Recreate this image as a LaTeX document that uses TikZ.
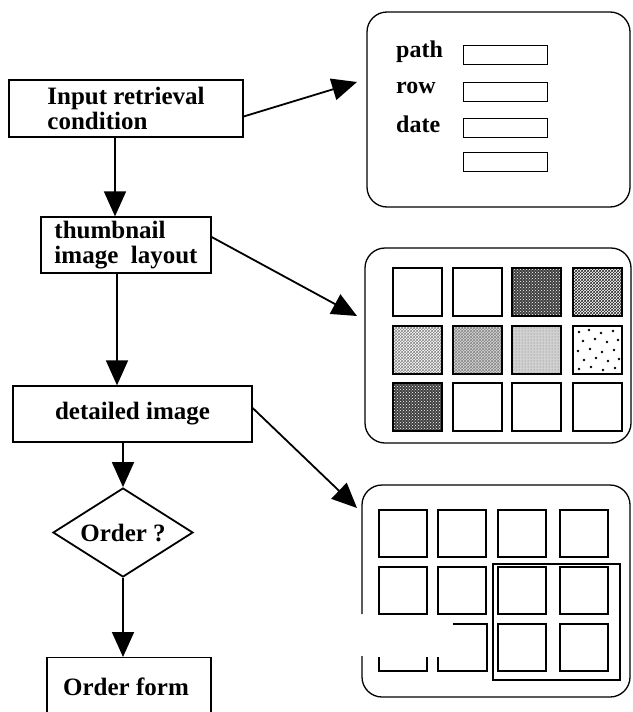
\documentclass[tikz,border=0pt]{standalone}
\usepackage{fontspec}
\setmainfont{Liberation Serif}
\usetikzlibrary{arrows.meta,shapes.geometric,patterns}
\begin{document}
\begin{tikzpicture}[x=1pt,y=-1pt,
  flowbox/.style={draw,line width=1.3pt,inner sep=0pt,font=\bfseries\fontsize{25}{25}\selectfont,align=left},
  conn/.style={line width=1.8pt,-{Triangle[length=25pt,width=22pt]}},
  panel/.style={draw,line width=1.3pt,rounded corners=20pt},
  thumb/.style={draw,line width=1.3pt},
  field/.style={draw,line width=1pt},
  lbl/.style={font=\bfseries\fontsize{24}{24}\selectfont,anchor=base west,inner sep=0pt}]
\useasboundingbox (0,0) rectangle (632,712);
\begin{scope}
\clip (0,0) rectangle (632,712);
% flow nodes
\node[flowbox,minimum width=234pt,minimum height=57pt] (inp) at (126,108.5) {Input retrieval\\condition};
\node[flowbox,minimum width=170pt,minimum height=56pt] (thu) at (126,245) {thumbnail\\image\ \ layout};
\node[flowbox,minimum width=239pt,minimum height=56pt] (det) at (132.5,414) {detailed image};
\node[diamond,draw,line width=1.8pt,inner sep=0pt,aspect=1.57,minimum width=140pt,minimum height=89pt,font=\bfseries\fontsize{25}{25}\selectfont] (ord) at (123,532.5) {Order ?};
\node[flowbox,minimum width=164pt,minimum height=70pt,anchor=north] (frm) at (129,657) {};
\node[font=\bfseries\fontsize{25}{25}\selectfont,anchor=base,inner sep=0pt] at (126,695) {Order form};

% panels
\node[panel,minimum width=263pt,minimum height=195pt] (p1) at (498.5,109.5) {};
\node[panel,minimum width=266pt,minimum height=195pt] (p2) at (498,345.5) {};

% arrow ends
\coordinate (e1) at (357,82);
\coordinate (e2) at (357,316);
\coordinate (e3) at (357,508);

\draw[conn] ([yshift=-8pt]inp.east) -- (e1);
\draw[conn] ([yshift=8pt]thu.east) -- (e2);
\draw[conn] ([yshift=6pt]det.east) -- (e3);
\draw[conn] ([xshift=-11pt]inp.south) -- ([xshift=-11pt]inp.south |- thu.north);
\draw[conn] ([xshift=-9pt]thu.south) -- ([xshift=-9pt]thu.south |- det.north);
\draw[conn] (ord.north |- det.south) -- (ord.north);
\draw[conn] (ord.south) -- (ord.south |- frm.north);

% panel 1 contents
\node[lbl] (lp) at (396,57) {path};
\node[lbl] (lr) at (396,93) {row};
\node[lbl] (ld) at (396,132) {date};
\foreach \y/\n in {45/a,82/b,118/c,152/d}
  \node[field,minimum width=84pt,minimum height=19pt,anchor=north west,inner sep=0pt] (f\n) at (463,\y) {};

% panel 2 thumbnails
\def\tw{49}
\foreach \c/\x in {1/393,2/453,3/512,4/573}{
  \foreach \r/\y in {1/268,2/326,3/383}{
    \coordinate (t\r\c) at (\x,\y);
  }
}
\fill[black!75] (t13) rectangle ++(\tw,48);
\fill[pattern=crosshatch dots,pattern color=white] (t13) rectangle ++(\tw,48);
\fill[black!75] (t31) rectangle ++(\tw,48);
\fill[pattern=crosshatch dots,pattern color=white] (t31) rectangle ++(\tw,48);
\fill[pattern=crosshatch,pattern color=black!80] (t14) rectangle ++(\tw,48);
\fill[pattern=dots] (t14) rectangle ++(\tw,48);
\fill[pattern=crosshatch dots] (t21) rectangle ++(\tw,48);
\fill[pattern=crosshatch,pattern color=black!45] (t21) rectangle ++(\tw,48);
\fill[black!15] (t22) rectangle ++(\tw,48);
\fill[pattern=crosshatch dots] (t22) rectangle ++(\tw,48);
\fill[pattern=crosshatch,pattern color=black!45] (t22) rectangle ++(\tw,48);
\fill[black!18] (t23) rectangle ++(\tw,48);
\fill[pattern=dots,pattern color=black!55] (t23) rectangle ++(\tw,48);
\foreach \dx/\dy in {6/6,16/4,28/7,40/5,10/15,22/13,34/16,45/14,5/25,17/23,29/26,41/24,11/34,23/32,35/35,46/33,6/43,18/41,30/44,42/42}
  \fill ([shift={(\dx,\dy)}]t24) circle (1.3pt);
\foreach \c in {1,2,3,4}\foreach \r in {1,2,3}
  \draw[thumb] (t\r\c) rectangle ++(\tw,48);

% panel 3
\draw[line width=1.3pt,rounded corners=20pt] (362,614) -- (362,485) -- (630,485) -- (630,697) -- (362,697) -- (362,656);
\foreach \c/\x in {1/379,2/438,3/498,4/560}{
  \foreach \r/\y in {1/510,2/567,3/624}{
    \coordinate (d\r\c) at (\x,\y);
  }
}
\foreach \c in {1,2,3,4}\foreach \r in {1,2}
  \draw[thumb] (d\r\c) rectangle ++(48,47);
\foreach \c in {3,4}
  \draw[thumb] (d3\c) rectangle ++(48,47);
\draw[thumb] (379,657) -- (379,671) -- (427,671) -- (427,657);
\draw[thumb] (453,624) -- (487,624) -- (487,671) -- (438,671) -- (438,657);
\draw[line width=1.1pt] (493,564) rectangle (620,680);
\end{scope}
\end{tikzpicture}
\end{document}
